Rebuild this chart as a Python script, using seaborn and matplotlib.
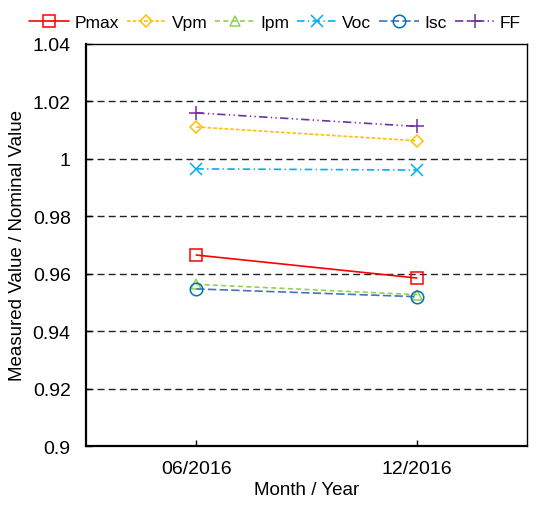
import matplotlib
matplotlib.use("Agg")
import matplotlib.pyplot as plt
import seaborn as sns
import pandas as pd

sns.set_theme(style="white")
plt.rcParams["font.family"] = ["Liberation Sans", "DejaVu Sans"]
plt.rcParams["text.color"] = "black"
plt.rcParams["axes.labelcolor"] = "black"

# Measurement campaigns
periods = ["06/2016", "12/2016"]

# Ratios of measured to nominal module parameters
pmax = [0.9665, 0.9585]
vpm = [1.0111, 1.0063]
ipm = [0.9563, 0.9527]
voc = [0.9965, 0.9961]
isc = [0.9547, 0.9520]
ff = [1.0160, 1.0113]

y_ticks = [0.9, 0.92, 0.94, 0.96, 0.98, 1.0, 1.02, 1.04]
y_tick_labels = ["0.9", "0.92", "0.94", "0.96", "0.98", "1", "1.02", "1.04"]

series = [
    ("Pmax", pmax, "#FF0000", "#FF0000", "s", 9, None),
    ("Vpm", vpm, "#FFC000", "#FFC000", "D", 6.5, (2.2, 1.2)),
    ("Ipm", ipm, "#92D050", "#92D050", "^", 7.5, (3.0, 2.0)),
    ("Voc", voc, "#00B0F0", "#00B0F0", "x", 8, (4.5, 2.0, 0.8, 2.0)),
    ("Isc", isc, "#4472C4", "#0070C0", "o", 9, (5.0, 2.0)),
    ("FF", ff, "#7030A0", "#7030A0", "+", 10, (5.0, 2.0, 0.8, 2.0, 0.8, 2.0)),
]

fig = plt.figure(figsize=(5.39, 5.06), dpi=100)
ax = fig.add_axes([0.1596, 0.1166, 0.8181, 0.7945])

# Horizontal reference grid
for yv in y_ticks[1:-1]:
    ax.axhline(yv, color="#222222", lw=1.0, dashes=(5, 3), zorder=0)

handles = []
for name, vals, lcolor, mcolor, marker, msize, dash in series:
    df = pd.DataFrame({"period": periods, "value": vals})
    sns.lineplot(data=df, x="period", y="value", ax=ax, color=lcolor,
                 lw=1.2, label=name, legend=False)
    line = ax.get_lines()[-1]
    if dash is not None:
        line.set_dashes(dash)
    line.set_marker(marker)
    line.set_markersize(msize)
    line.set_markerfacecolor("none")
    line.set_markeredgecolor(mcolor)
    line.set_markeredgewidth(1.1)
    handles.append(line)

ax.set_xlim(-0.5, 1.5)
ax.set_ylim(0.9, 1.04)
ax.set_xticks([0, 1])
ax.set_xticklabels(periods)
ax.set_yticks(y_ticks)
ax.set_yticklabels(y_tick_labels)
ax.tick_params(axis="both", direction="in", length=4, width=1, labelsize=14,
               colors="black", bottom=True, left=True)
ax.tick_params(axis="y", pad=11)
ax.tick_params(axis="x", pad=10)
ax.set_xlabel("Month / Year", fontsize=13.5, labelpad=3, color="black")
ax.set_ylabel("Measured Value / Nominal Value", fontsize=13.5, labelpad=5,
              color="black")

for side in ["left", "bottom"]:
    ax.spines[side].set_linewidth(1.6)
    ax.spines[side].set_color("black")
for side in ["top", "right"]:
    ax.spines[side].set_linewidth(1.0)
    ax.spines[side].set_color("black")

leg = fig.legend(handles=handles, labels=[s[0] for s in series],
                 loc="upper center", bbox_to_anchor=(0.51, 0.99), ncol=6,
                 frameon=False, fontsize=12.5, handlelength=2.3,
                 handletextpad=0.3, columnspacing=0.45, borderaxespad=0.2)
for txt in leg.get_texts():
    txt.set_color("black")

fig.savefig("out.png", dpi=100, facecolor="white")
